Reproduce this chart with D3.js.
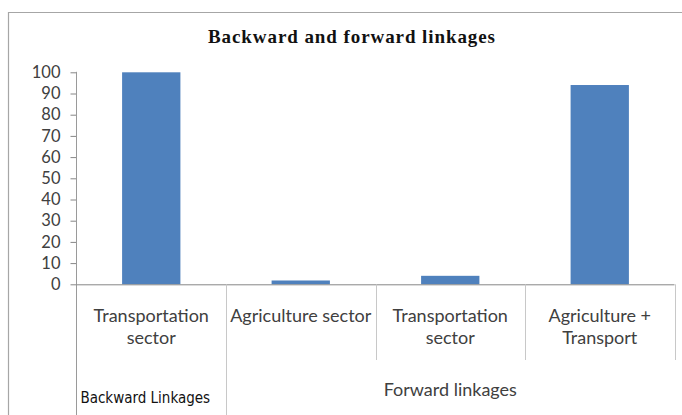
<!DOCTYPE html>
<html><head><meta charset="utf-8">
<script src="https://cdn.jsdelivr.net/npm/d3@7/dist/d3.min.js"></script>
<style>body{margin:0;background:#fff}svg{display:block}</style>
</head><body>
<script>
const categories = ["Transportation sector","Agriculture sector","Transportation sector","Agriculture + Transport"];
const categoryLines = [["Transportation","sector"],["Agriculture sector"],["Transportation","sector"],["Agriculture +","Transport"]];
const groups = [{name:"Backward Linkages", from:0, to:0},{name:"Forward linkages", from:1, to:3}];
const values = [100, 1.8, 4, 94];
const yTicks = [0,10,20,30,40,50,60,70,80,90,100];
const title = "Backward and forward linkages";

const W=682,H=415;
const svg=d3.select("body").append("svg").attr("width",W).attr("height",H);
const L=76.5,R=674.5,T=72.3,B=284.3;
const x=d3.scaleBand().domain(d3.range(categories.length)).range([L,R]).paddingInner(0).paddingOuter(0);
const y=d3.scaleLinear().domain([0,100]).range([B,T]);

// outer frame
svg.append("path").attr("d",`M8.5,${H+2}V12.5H${W+2}`).attr("fill","none").attr("stroke","#a6a6a6").attr("stroke-width",1.2);

svg.append("text").attr("x",351.5).attr("y",43).attr("text-anchor","middle")
  .attr("font-family","Liberation Serif").attr("font-weight","bold").attr("font-size",19)
  .attr("textLength",287).attr("lengthAdjust","spacing")
  .attr("fill","#111").text(title);

const font="Lato, 'Open Sans', sans-serif";
// y axis
const ya=svg.append("g").attr("transform",`translate(${L},0)`).call(d3.axisLeft(y).tickValues(yTicks).tickSize(6).tickPadding(10));
ya.select(".domain").remove();
ya.selectAll("line").attr("stroke","#868686");
ya.selectAll("text").attr("font-family",font).attr("font-size",16.5).attr("fill","#404040");

// bars
svg.selectAll("rect.bar").data(values).join("rect")
  .attr("x",(d,i)=>x(i)+x.bandwidth()*0.305).attr("width",x.bandwidth()*0.39)
  .attr("y",d=>y(d)).attr("height",d=>B-y(d)).attr("fill","#4f81bd");

// axis lines
const g=svg.append("g").attr("stroke","#9a9a9a").attr("stroke-width",1);
g.append("line").attr("x1",L).attr("x2",L).attr("y1",T-0.5).attr("y2",H);
g.append("line").attr("x1",L).attr("x2",R).attr("y1",B+0.5).attr("y2",B+0.5).attr("stroke","#868686");
// category dividers
d3.range(1,categories.length+1).forEach(i=>{
  const xp = i<categories.length ? x(i) : R;
  const isGroupEdge = groups.some(gr=>gr.to+1===i && i<categories.length);
  g.append("line").attr("x1",Math.round(xp)+0.5).attr("x2",Math.round(xp)+0.5).attr("y1",B).attr("y2",isGroupEdge?H:360).attr("stroke","#c8c8c8");
});

// category labels
categoryLines.forEach((lines,i)=>{
  const t=svg.append("text").attr("text-anchor","middle").attr("font-family",font).attr("font-size",18).attr("fill","#404040");
  lines.forEach((ln,j)=>t.append("tspan").attr("x",x(i)+x.bandwidth()/2).attr("y",322+j*22).text(ln));
});
// group labels
groups.forEach((gr,k)=>{
  const cx=(x(gr.from)+x(gr.to)+x.bandwidth())/2;
  svg.append("text").attr("x",k===0?cx-6:cx).attr("y",k===0?403:396).attr("text-anchor","middle")
    .attr("font-family",k===0?"'DejaVu Sans Condensed', Lato, sans-serif":font)
    .attr("font-size",k===0?15:18).attr("fill",k===0?"#111":"#404040").text(gr.name);
});
</script>
</body></html>
